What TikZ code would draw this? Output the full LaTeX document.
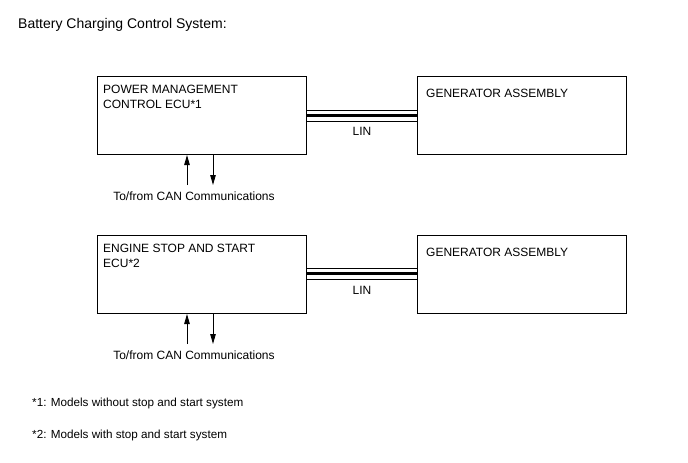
\documentclass[tikz,border=0pt]{standalone}
\usepackage{fontspec}
\setmainfont{Liberation Sans}
\usetikzlibrary{positioning, arrows.meta, calc}

\tikzset{
    unitbox/.style={draw, line width=1pt, minimum width=209pt, minimum height=78pt, anchor=north west, inner sep=0pt},
    boxtext/.style={anchor=base west, align=left, inner sep=0pt},
    plaintext/.style={anchor=base west, inner sep=0pt},
    canline/.style={line width=0.9pt, ->},
}

\begin{document}
\begin{tikzpicture}[x=1pt, y=-1pt, font=\fontsize{12}{15}\selectfont, >={Triangle[length=10pt, width=5.5pt]}]
    \useasboundingbox (0,0) rectangle (688,463);

    % title
    \node[plaintext, font=\fontsize{14}{16}\selectfont] (title) at (18,28) {Battery Charging Control System:};

    % --- upper system: power management ECU ---
    \node[unitbox] (pmecu) at (97,76) {};
    \node[unitbox] (gen1) at (417,76) {};
    % base = last line of the text
    \node[boxtext] (pmtext) at ([shift={(6,32)}]pmecu.north west) {POWER MANAGEMENT\\CONTROL ECU*1};
    \node[boxtext] (gen1text) at ([shift={(9,21)}]gen1.north west) {GENERATOR ASSEMBLY};

    % LIN bus (thin / thick / thin)
    \foreach \dy/\lw in {34/0.9pt, 39.5/3pt, 45/0.9pt} {
        \draw[line width=\lw] ([yshift=-\dy pt]pmecu.north east) -- ([yshift=-\dy pt]gen1.north west);
    }
    \node (lin1) at ($(pmecu.north east)!0.5!(gen1.north west)$) [yshift=-55pt] {LIN};

    % CAN in/out
    \coordinate (can1in) at ([shift={(90,30)}]pmecu.south west);
    \coordinate (can1out) at ([shift={(116,30)}]pmecu.south west);
    \draw[canline] (can1in) -- (can1in |- pmecu.south);
    \draw[canline] (can1out |- pmecu.south) -- (can1out);
    \node[anchor=base] (can1text) at ([shift={(-6,15)}]$(can1in)!0.5!(can1out)$) {To/from CAN Communications};

    % --- lower system: engine stop and start ECU ---
    \node[unitbox] (ssecu) at (97,235) {};
    \node[unitbox] (gen2) at (417,235) {};
    \node[boxtext] (sstext) at ([shift={(6,32)}]ssecu.north west) {ENGINE STOP AND START\\ECU*2};
    \node[boxtext] (gen2text) at ([shift={(9,21)}]gen2.north west) {GENERATOR ASSEMBLY};

    \foreach \dy/\lw in {33/0.9pt, 38.5/3pt, 44/0.9pt} {
        \draw[line width=\lw] ([yshift=-\dy pt]ssecu.north east) -- ([yshift=-\dy pt]gen2.north west);
    }
    \node (lin2) at ($(ssecu.north east)!0.5!(gen2.north west)$) [yshift=-55pt] {LIN};

    \coordinate (can2in) at ([shift={(90,30)}]ssecu.south west);
    \coordinate (can2out) at ([shift={(116,30)}]ssecu.south west);
    \draw[canline] (can2in) -- (can2in |- ssecu.south);
    \draw[canline] (can2out |- ssecu.south) -- (can2out);
    \node[anchor=base] (can2text) at ([shift={(-6,15)}]$(can2in)!0.5!(can2out)$) {To/from CAN Communications};

    % footnotes
    \node[plaintext, font=\fontsize{11.7}{14}\selectfont] (note1) at (32,406) {*1: Models without stop and start system};
    \node[plaintext, font=\fontsize{11.7}{14}\selectfont] (note2) at (32,438) {*2: Models with stop and start system};
\end{tikzpicture}
\end{document}
